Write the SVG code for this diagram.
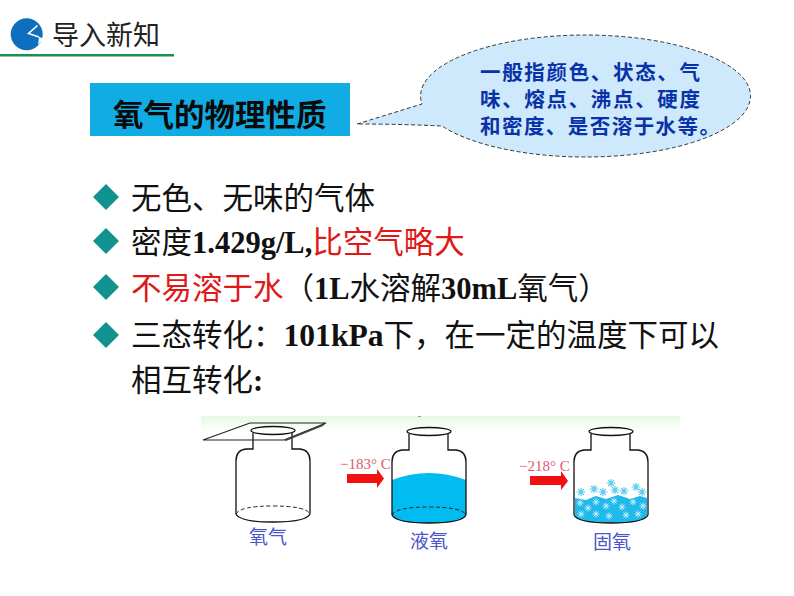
<svg xmlns="http://www.w3.org/2000/svg" width="794" height="596" viewBox="0 0 794 596">
<style>
.cjk{font-family:"Noto Sans CJK SC","Noto Sans",sans-serif}
.body{font-size:30.5px;fill:#111}
.red{fill:#e01818}
.lat{font-family:"Liberation Serif","Noto Sans CJK SC",serif;font-weight:700}
.line{fill:none;stroke:#111;stroke-width:1.3}
.dash{fill:none;stroke:#222;stroke-width:1;stroke-dasharray:4 2.5}
.cap{font-size:19px;fill:#4a58c8;text-anchor:middle}
.temp{font-family:"Liberation Serif",serif;font-size:15px;fill:#dc5a6c}
.note{font-size:20.5px;font-weight:700;fill:#0a32a8}
.arrow{fill:#f01010}
.flake{fill:none;stroke:#c4ecf9;stroke-width:1}
.flake2{fill:none;stroke:#62cdee;stroke-width:1.2}
</style>
<defs>
<linearGradient id="strip" x1="0" y1="0" x2="0" y2="1"><stop offset="0" stop-color="#e6f9e4"/><stop offset="1" stop-color="#fff"/></linearGradient>
<g id="bottle">
<path class="line" d="M253 433V449H246Q236 450 236 461V514M292 433V449H300Q310 450 310 461V514"/>
<ellipse class="line" cx="273" cy="430.500" rx="22" ry="4" fill="#fff"/>
<path class="line" d="M236 514Q240 522 273 522Q306 522 310 514"/>
</g>
<path id="fl" class="flake" d="M-3.500 0H3.500M0-3.500V3.500M-2.500-2.500L2.500 2.500M-2.500 2.500L2.500-2.500"/>
<path id="fb" class="flake2" d="M-4.500 0H4.500M0-4V4M-3-3L3 3M-3 3L3-3"/>
</defs>
<rect width="794" height="596" fill="#fff"/>

<g id="header">
<circle cx="26.700" cy="34.300" r="16" fill="#0f6fbe"/>
<path d="M37.500 25.500L28.500 33.500L39 37" fill="none" stroke="#fff" stroke-width="1.600"/>
<path d="M39 37L44 38.500L38 45Z" fill="#fff"/>
<text class="cjk" x="52" y="45" font-size="27" fill="#222">导入新知</text>
<rect x="0" y="54" width="174" height="2.500" fill="#1f8f55"/>
</g>

<g id="title">
<rect x="90" y="83" width="260" height="53" fill="#12ace4"/>
<text class="cjk" x="113" y="126" font-size="30.500" font-weight="700" fill="#0a0a0a">氧气的物理性质</text>
</g>

<g id="callout">
<path d="M357 124L422 104A165 61 0 0 1 585.500 35A165 61 0 0 1 750.500 96A165 61 0 0 1 585.500 157A165 61 0 0 1 442 126Q400 124 357 124Z" fill="#cde9fb" stroke="#333" stroke-width="1" stroke-dasharray="4 2.500"/>
<text class="cjk note"><tspan x="480" y="80" textLength="220">一般指颜色、状态、气</tspan><tspan x="480" y="107" textLength="220">味、熔点、沸点、硬度</tspan><tspan x="480" y="134" textLength="240">和密度、是否溶于水等。</tspan></text>
</g>

<g id="bullets" fill="#12928f">
<path d="M106 184L119 197L106 210L93 197Z"/>
<path d="M106 228L119 241L106 254L93 241Z"/>
<path d="M106 274L119 287L106 300L93 287Z"/>
<path d="M106 322L119 335L106 348L93 335Z"/>
</g>

<g id="lines" class="cjk body">
<text x="131" y="209">无色、无味的气体</text>
<text x="131" y="253">密度<tspan class="lat">1.429g/L,</tspan><tspan class="red">比空气略大</tspan></text>
<text x="131" y="299"><tspan class="red">不易溶于水</tspan>（<tspan class="lat">1L</tspan>水溶解<tspan class="lat">30mL</tspan>氧气）</text>
<text x="131" y="346">三态转化：<tspan class="lat" font-size="31.600">101kPa</tspan>下，在一定的温度下可以</text>
<text x="131" y="391">相互转化<tspan class="lat">:</tspan></text>
</g>

<g id="figure">
<rect x="201" y="416" width="479" height="16" fill="url(#strip)"/>
<path d="M418 416.500H421" stroke="#999" stroke-width="1"/>

<g id="bottle-gas">
<use href="#bottle"/>
<path class="dash" d="M236 514Q240 506 273 506Q306 506 310 514"/>
<path d="M203 440L250 423H326L284 440Z" fill="none" stroke="#222" stroke-width="1.200"/>
<path d="M284 440L326 423L323 426L286 441Z" fill="#444"/>
<text class="cjk cap" x="268" y="544">氧气</text>
</g>

<g id="arrow-liquid">
<path class="arrow" d="M347 474H377V469L384 478.500L377 488V483H347Z"/>
<text class="temp" x="340" y="469">−183° C</text>
</g>

<g id="bottle-liquid" transform="translate(156 1)">
<path d="M236 479Q273 465 310 479V514Q306 522 273 522Q240 522 236 514Z" fill="#00bcf0"/>
<path class="dash" d="M236 514Q240 506 273 506Q306 506 310 514"/>
<use href="#bottle"/>
</g>
<text class="cjk cap" x="429" y="548">液氧</text>

<g id="arrow-solid">
<path class="arrow" d="M530 476H561V471L568 481L561 490V485H530Z"/>
<text class="temp" x="519" y="471">−218° C</text>
</g>

<g id="bottle-solid" transform="translate(338 1)">
<path d="M237 497L248 499L258 495L268 498L280 494L292 498L302 495L309 497V514Q306 522 273 522Q240 522 237 514Z" fill="#1fb9ec"/>
<use href="#fb" x="243" y="491"/><use href="#fb" x="256" y="488"/><use href="#fb" x="273" y="482"/><use href="#fb" x="265" y="491"/><use href="#fb" x="286" y="490"/><use href="#fb" x="298" y="486"/><use href="#fb" x="304" y="491"/><use href="#fb" x="277" y="489"/>
<use href="#fl" x="242" y="502"/><use href="#fl" x="250" y="507"/><use href="#fl" x="258" y="501"/><use href="#fl" x="268" y="505"/><use href="#fl" x="276" y="500"/><use href="#fl" x="284" y="506"/><use href="#fl" x="295" y="501"/><use href="#fl" x="305" y="505"/>
<use href="#fl" x="243" y="513"/><use href="#fl" x="258" y="513"/><use href="#fl" x="271" y="515"/><use href="#fl" x="288" y="514"/><use href="#fl" x="300" y="513"/>
<use href="#bottle"/>
</g>
<text class="cjk cap" x="612" y="549">固氧</text>
</g>
</svg>
